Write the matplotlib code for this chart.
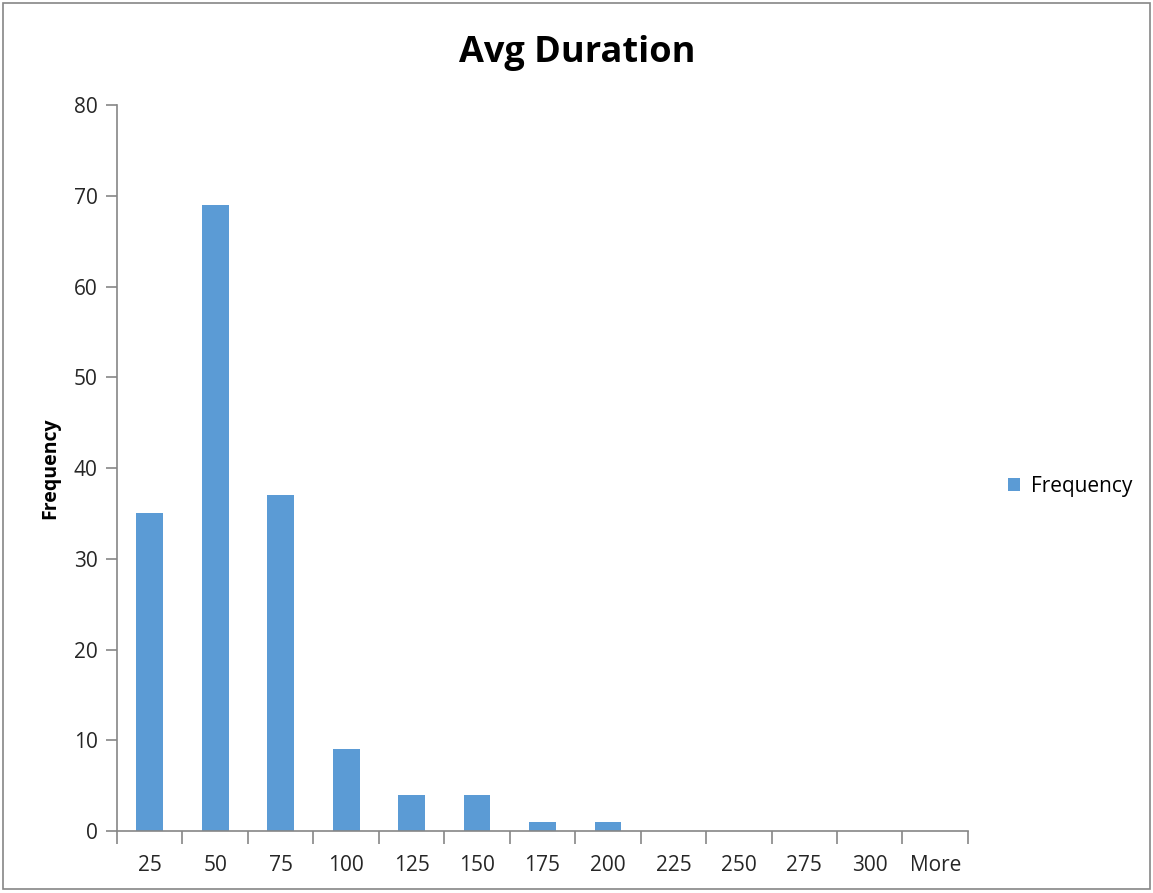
import matplotlib.pyplot as plt
import numpy as np
from matplotlib.patches import Rectangle

plt.rcParams['font.family'] = ['Open Sans', 'DejaVu Sans']

bins = ["25", "50", "75", "100", "125", "150", "175", "200", "225", "250", "275", "300", "More"]
frequency = [35, 69, 37, 9, 4, 4, 1, 1, 0, 0, 0, 0, 0]

bar_color = '#5B9BD5'
axis_color = '#868686'

fig = plt.figure(figsize=(11.53, 8.93), dpi=100)
ax = fig.add_axes([0.1015, 0.0694, 0.738, 0.813])

index = np.arange(len(bins))
ax.bar(index, frequency, 0.41, color=bar_color, label='Frequency')

ax.set_xlim(-0.5, len(bins) - 0.5)
ax.set_ylim(0, 80)
ax.set_yticks(np.arange(0, 81, 10))

# category labels sit under the bars, tick marks sit between categories
ax.set_xticks(index)
ax.set_xticklabels(bins)
ax.set_xticks(np.arange(-0.5, len(bins)), minor=True)
ax.tick_params(axis='x', which='major', length=0, pad=17, labelsize=15, colors='#262626')
ax.tick_params(axis='x', which='minor', length=9, width=1.2, color=axis_color, direction='out')
ax.tick_params(axis='y', length=8, width=1.2, color=axis_color, labelsize=15,
               labelcolor='#262626', pad=6)

for side in ['top', 'right']:
    ax.spines[side].set_visible(False)
for side in ['left', 'bottom']:
    ax.spines[side].set_color(axis_color)
    ax.spines[side].set_linewidth(1.2)

ax.set_ylabel('Frequency', fontsize=14, fontweight='bold', labelpad=10)
fig.text(0.501, 0.941, 'Avg Duration', ha='center', va='center', fontsize=26, fontweight='bold')

ax.legend(loc='center left', bbox_to_anchor=(1.025, 0.475), frameon=False, fontsize=15,
          handlelength=0.6, handleheight=0.6, handletextpad=0.5)

# outer chart border
fig.patches.append(Rectangle((0.003, 0.004), 0.994, 0.993, transform=fig.transFigure,
                             fill=False, edgecolor='#868686', linewidth=1.2))

plt.savefig('out.png', dpi=100)
